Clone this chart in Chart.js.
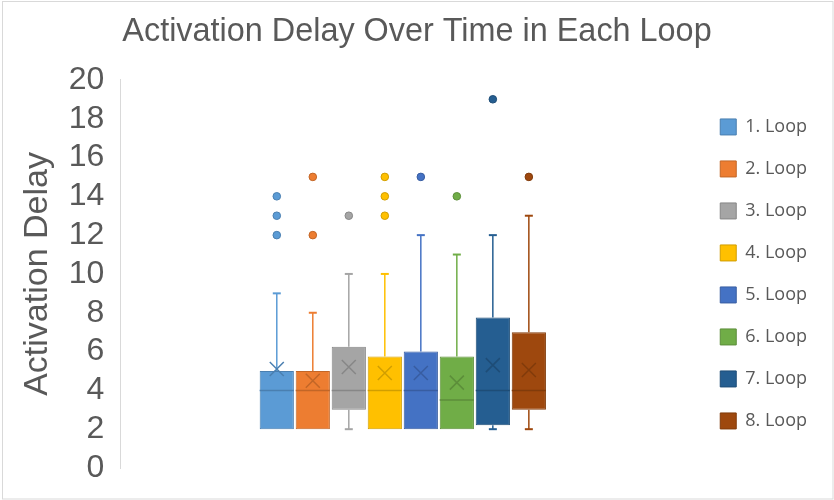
<!DOCTYPE html>
<html>
<head>
<meta charset="utf-8">
<script src="https://cdn.jsdelivr.net/npm/chart.js@4.4.0/dist/chart.umd.min.js"></script>
<style>
  html, body { margin: 0; padding: 0; background: #fff; }
  #wrap { width: 834px; height: 500px; position: relative; }
</style>
</head>
<body>
<div id="wrap"><canvas id="chart"></canvas></div>
<script>
// box plot summary per loop
const loops = ['1. Loop', '2. Loop', '3. Loop', '4. Loop', '5. Loop', '6. Loop', '7. Loop', '8. Loop'];
const whiskerMin = [2, 2, 2, 2, 2, 2, 2, 2];
const q1 = [2, 2, 3, 2, 2, 2, 2.2, 3];
const median = [4, 4, 4, 4, 4, 3.5, 4, 4];
const q3 = [5, 5, 6.25, 5.75, 6, 5.75, 7.75, 7];
const whiskerMax = [9, 8, 10, 10, 12, 11, 12, 13];
const mean = [5.1, 4.5, 5.2, 4.9, 4.9, 4.4, 5.3, 5.05];
const outliers = [[12, 13, 14], [12, 15], [13], [13, 14, 15], [15], [14], [19], [15]];
const yTicks = [0, 2, 4, 6, 8, 10, 12, 14, 16, 18, 20];

const colors = ['#5B9BD5', '#ED7D31', '#A5A5A5', '#FFC000', '#4472C4', '#70AD47', '#255E91', '#9E480E'];
const darker = ['#4A7FB0', '#C26627', '#878787', '#D19E00', '#385DA1', '#5C8E3A', '#1E4D77', '#813B0B'];

const textColor = '#595959';

// whiskers, median, mean cross and outlier dots on top of the floating bars
const boxExtras = {
  id: 'boxExtras',
  afterDatasetsDraw(chart) {
    const { ctx } = chart;
    const y = chart.scales.y;
    loops.forEach((name, i) => {
      const bar = chart.getDatasetMeta(i).data[0];
      if (!bar) return;
      const x = bar.x;
      const w = bar.width;
      ctx.save();
      ctx.lineCap = 'butt';

      // whiskers
      ctx.strokeStyle = colors[i];
      const cap = 4;
      if (whiskerMax[i] > q3[i]) {
        ctx.lineWidth = 1.5;
        ctx.beginPath();
        ctx.moveTo(x, y.getPixelForValue(q3[i]));
        ctx.lineTo(x, y.getPixelForValue(whiskerMax[i]));
        ctx.stroke();
        ctx.lineWidth = 2;
        ctx.beginPath();
        ctx.moveTo(x - cap, y.getPixelForValue(whiskerMax[i]));
        ctx.lineTo(x + cap, y.getPixelForValue(whiskerMax[i]));
        ctx.stroke();
      }
      if (whiskerMin[i] < q1[i]) {
        ctx.lineWidth = 1.5;
        ctx.beginPath();
        ctx.moveTo(x, y.getPixelForValue(q1[i]));
        ctx.lineTo(x, y.getPixelForValue(whiskerMin[i]));
        ctx.stroke();
        ctx.lineWidth = 2;
        ctx.beginPath();
        ctx.moveTo(x - cap, y.getPixelForValue(whiskerMin[i]));
        ctx.lineTo(x + cap, y.getPixelForValue(whiskerMin[i]));
        ctx.stroke();
      }

      // median line
      ctx.strokeStyle = darker[i];
      ctx.lineWidth = 1.5;
      const my = y.getPixelForValue(median[i]);
      ctx.beginPath();
      ctx.moveTo(x - w / 2, my);
      ctx.lineTo(x + w / 2, my);
      ctx.stroke();

      // mean cross
      const ay = y.getPixelForValue(mean[i]);
      const s = 7;
      ctx.beginPath();
      ctx.moveTo(x - s, ay - s);
      ctx.lineTo(x + s, ay + s);
      ctx.moveTo(x - s, ay + s);
      ctx.lineTo(x + s, ay - s);
      ctx.stroke();

      // outliers
      ctx.fillStyle = colors[i];
      ctx.strokeStyle = darker[i];
      ctx.lineWidth = 1;
      outliers[i].forEach((v) => {
        ctx.beginPath();
        ctx.arc(x, y.getPixelForValue(v), 3.8, 0, Math.PI * 2);
        ctx.fill();
        ctx.stroke();
      });
      ctx.restore();
    });
  },
};

// light frame round the whole chart
const frame = {
  id: 'frame',
  afterDraw(chart) {
    const { ctx, width, height } = chart;
    ctx.save();
    ctx.strokeStyle = '#D9D9D9';
    ctx.lineWidth = 1;
    ctx.strokeRect(2.5, 1.5, width - 3.5, height - 2.5);
    ctx.restore();
  },
};

new Chart(document.getElementById('chart'), {
  type: 'bar',
  data: {
    labels: [''],
    datasets: loops.map((name, i) => ({
      label: name,
      data: [[q1[i], q3[i]]],
      backgroundColor: colors[i],
      borderColor: darker[i],
      borderWidth: 1,
      borderSkipped: false,
      categoryPercentage: 0.51,
      barPercentage: 0.95,
    })),
  },
  options: {
    responsive: true,
    maintainAspectRatio: false,
    animation: false,
    layout: { padding: { left: 17, right: 17, top: 8, bottom: 32 } },
    plugins: {
      tooltip: { enabled: false },
      title: {
        display: true,
        text: 'Activation Delay Over Time in Each Loop',
        color: textColor,
        font: { family: 'Liberation Sans', size: 32.4, weight: 'normal' },
        padding: { top: 5, bottom: 28 },
      },
      legend: {
        position: 'right',
        fullSize: false,
        labels: {
          boxWidth: 16,
          boxHeight: 16,
          padding: 24,
          color: textColor,
          font: { family: 'Open Sans', size: 18 },
        },
      },
    },
    scales: {
      x: {
        display: false,
        offset: true,
      },
      y: {
        min: 0,
        max: 20,
        afterBuildTicks: (scale) => {
          scale.ticks = yTicks.map((v) => ({ value: v }));
        },
        grid: { display: false },
        border: { display: true, color: '#D9D9D9', width: 1 },
        ticks: {
          autoSkip: false,
          color: textColor,
          padding: 8,
          font: { family: 'Liberation Sans', size: 32 },
        },
        title: {
          display: true,
          text: 'Activation Delay',
          color: textColor,
          font: { family: 'Liberation Sans', size: 34 },
          padding: { top: 0, bottom: 3 },
        },
      },
      yR: {
        position: 'right',
        display: true,
        min: 0,
        max: 20,
        grid: { display: false },
        border: { display: false },
        ticks: { display: false },
        afterFit: (scale) => { scale.width = 11; },
      },
    },
  },
  plugins: [boxExtras, frame],
});
</script>
</body>
</html>
